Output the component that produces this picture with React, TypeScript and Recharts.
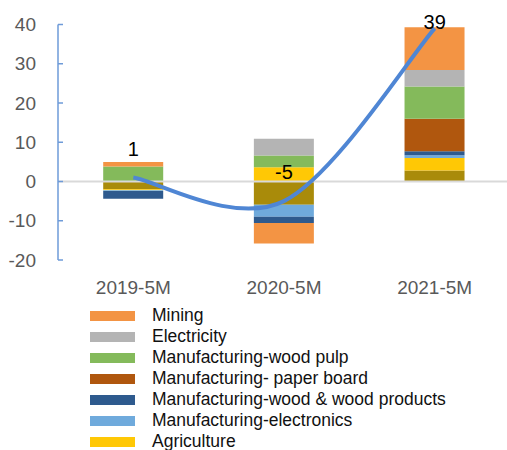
import {
  ComposedChart,
  Bar,
  Line,
  XAxis,
  YAxis,
  ReferenceLine,
  Legend,
  LabelList,
} from "recharts";

const categories = ["2019-5M", "2020-5M", "2021-5M"];

// stacked from the bottom up
const others = [-2.0, -5.9, 2.8];
const agriculture = [-0.2, 3.6, 3.2];
const electronics = [-0.2, -3.1, 0.7];
const woodProducts = [-2.0, -1.6, 1.0];
const paperBoard = [0, 0, 8.3];
const woodPulp = [3.8, 3.0, 8.2];
const electricity = [0, 4.3, 4.2];
const mining = [1.2, -5.2, 10.9];

const totals = [1, -5, 39];
const yTicks = [-20, -10, 0, 10, 20, 30, 40];

const series = [
  { key: "others", name: "Others", color: "#A98B0A", values: others },
  { key: "agriculture", name: "Agriculture", color: "#FFC805", values: agriculture },
  { key: "electronics", name: "Manufacturing-electronics", color: "#6FAADC", values: electronics },
  { key: "woodProducts", name: "Manufacturing-wood & wood products", color: "#2E5A8E", values: woodProducts },
  { key: "paperBoard", name: "Manufacturing- paper board", color: "#B0570E", values: paperBoard },
  { key: "woodPulp", name: "Manufacturing-wood pulp", color: "#84BA5B", values: woodPulp },
  { key: "electricity", name: "Electricity", color: "#B4B4B4", values: electricity },
  { key: "mining", name: "Mining", color: "#F39444", values: mining },
];

const data = categories.map((name, i) => {
  const row: Record<string, string | number> = { name, total: totals[i] };
  series.forEach((s) => {
    row[s.key] = s.values[i];
  });
  return row;
});

const FONT = "'Liberation Sans', Arial, sans-serif";

// Excel-style smoothed line (Catmull-Rom as cubic beziers)
const smoothCurve = (context: any) => {
  let pts: [number, number][] = [];
  return {
    areaStart() {},
    areaEnd() {},
    lineStart() {
      pts = [];
    },
    point(x: number, y: number) {
      pts.push([+x, +y]);
    },
    lineEnd() {
      if (!pts.length) return;
      context.moveTo(pts[0][0], pts[0][1]);
      for (let i = 0; i < pts.length - 1; i++) {
        const p0 = pts[Math.max(i - 1, 0)];
        const p1 = pts[i];
        const p2 = pts[i + 1];
        const p3 = pts[Math.min(i + 2, pts.length - 1)];
        context.bezierCurveTo(
          p1[0] + (p2[0] - p0[0]) / 6,
          p1[1] + (p2[1] - p0[1]) / 6,
          p2[0] - (p3[0] - p1[0]) / 6,
          p2[1] - (p3[1] - p1[1]) / 6,
          p2[0],
          p2[1]
        );
      }
    },
  };
};

const LegendBox = () => (
  <div style={{ fontFamily: FONT }}>
    {[...series].reverse().map((s) => (
      <div
        key={s.key}
        style={{ height: 21, display: "flex", alignItems: "center" }}
      >
        <div style={{ width: 45, height: 10, background: s.color }} />
        <span style={{ marginLeft: 17, fontSize: 17.5, color: "#111", whiteSpace: "nowrap" }}>
          {s.name}
        </span>
      </div>
    ))}
  </div>
);

const TotalLabel = (props: any) => {
  const { x, y, value } = props;
  return (
    <text
      x={x}
      y={Math.max(y - 29, 22)}
      textAnchor="middle"
      dominantBaseline="central"
      fontSize={20}
      fontFamily={FONT}
      fill="#000"
    >
      {value}
    </text>
  );
};

export default function App() {
  return (
    <div
      style={{
        position: "absolute",
        left: 0,
        top: 0,
        width: 507,
        height: 450,
        overflow: "hidden",
        background: "#fff",
      }}
    >
      <ComposedChart
        width={510}
        height={470}
        data={data}
        stackOffset="sign"
        barCategoryGap="30%"
        margin={{ top: 24.5, right: 0, bottom: 0, left: 8 }}
      >
        <XAxis
          dataKey="name"
          axisLine={false}
          tickLine={false}
          tickSize={0}
          tickMargin={21}
          height={42}
          tick={{ fontSize: 19, fill: "#595959", fontFamily: FONT }}
        />
        <YAxis
          width={50}
          domain={[-20, 40]}
          ticks={yTicks}
          interval={0}
          axisLine={{ stroke: "#6E9BD8", strokeWidth: 1.5 }}
          tickLine={{ stroke: "#6E9BD8", strokeWidth: 1.5 }}
          tickSize={-5}
          tickMargin={27}
          tick={{ fontSize: 19, fill: "#595959", fontFamily: FONT }}
        />
        <ReferenceLine y={0} stroke="#D9D9D9" strokeWidth={2} />
        {series.map((s) => (
          <Bar
            key={s.key}
            dataKey={s.key}
            name={s.name}
            stackId="a"
            fill={s.color}
            isAnimationActive={false}
          />
        ))}
        <Line
          type={smoothCurve as any}
          dataKey="total"
          stroke="#4F86D4"
          strokeWidth={4}
          dot={false}
          activeDot={false}
          isAnimationActive={false}
          legendType="none"
        >
          <LabelList dataKey="total" content={TotalLabel} />
        </Line>
        <Legend
          verticalAlign="bottom"
          align="left"
          layout="horizontal"
          content={() => <LegendBox />}
          wrapperStyle={{ left: 90, top: 305, bottom: "auto", width: 410, height: 168 }}
        />
      </ComposedChart>
    </div>
  );
}
